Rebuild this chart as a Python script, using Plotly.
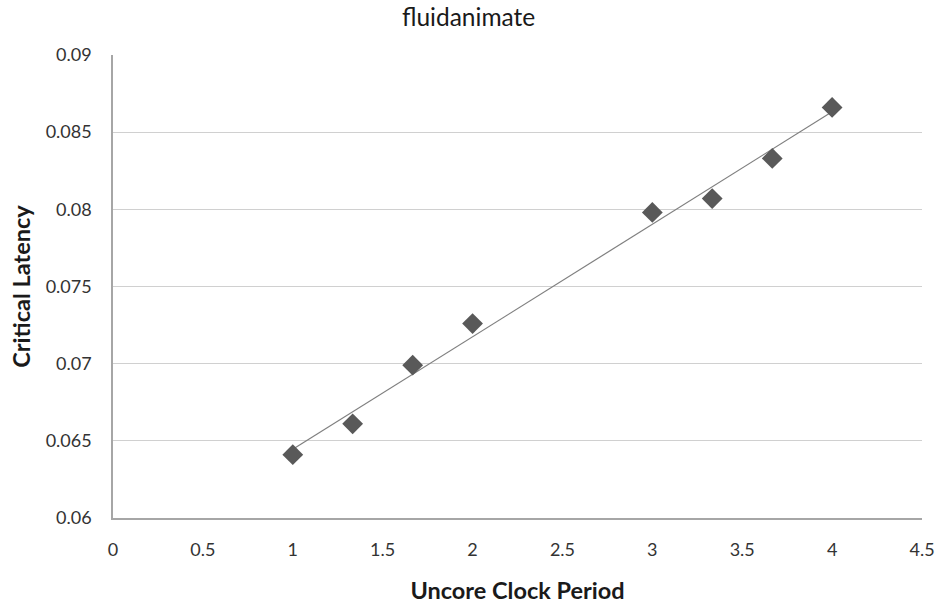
import numpy as np
import plotly.graph_objects as go

uncore_clock_period = [1.0, 1.333, 1.667, 2.0, 3.0, 3.333, 3.667, 4.0]
critical_latency = [0.0641, 0.0661, 0.0699, 0.0726, 0.0798, 0.0807, 0.0833, 0.0866]
x_ticks = [0, 0.5, 1, 1.5, 2, 2.5, 3, 3.5, 4, 4.5]
y_ticks = [0.06, 0.065, 0.07, 0.075, 0.08, 0.085, 0.09]

slope, intercept = np.polyfit(uncore_clock_period, critical_latency, 1)
trend_x = [min(uncore_clock_period), max(uncore_clock_period)]
trend_y = [slope * v + intercept for v in trend_x]

font = "Lato, 'Open Sans', sans-serif"

fig = go.Figure()
fig.add_trace(go.Scatter(x=trend_x, y=trend_y, mode="lines",
                         line=dict(color="#7f7f7f", width=1.2), showlegend=False))
fig.add_trace(go.Scatter(x=uncore_clock_period, y=critical_latency, mode="markers",
                         marker=dict(symbol="diamond", size=16, color="#595959"),
                         showlegend=False))

fig.update_layout(
    width=940, height=605,
    paper_bgcolor="white", plot_bgcolor="white",
    margin=dict(l=113, r=18, t=55, b=87, autoexpand=False),
    title=dict(text="fluidanimate", x=0.4985, xref="container", xanchor="center",
               y=1, yref="container", yanchor="top", pad=dict(t=9),
               font=dict(family=font, size=24.5, color="#1a1a1a")),
    font=dict(family=font, color="#333"),
)
fig.update_xaxes(range=[0, 4.5], tickvals=x_ticks, ticktext=[str(t) for t in x_ticks],
                 showgrid=False, zeroline=False, showline=True, linecolor="#a6a6a6", linewidth=1.5,
                 ticks="", ticklabelstandoff=15, tickfont=dict(size=18, color="#333"),
                 title=dict(text="<b>Uncore Clock Period</b>", font=dict(size=23.5, color="#1a1a1a"), standoff=23))
fig.update_yaxes(range=[0.06, 0.09], tickvals=y_ticks, ticktext=[str(t) for t in y_ticks],
                 showgrid=True, gridcolor="#d0d0d0", gridwidth=1.2, zeroline=False,
                 showline=True, linecolor="#a6a6a6", linewidth=1.5,
                 ticks="", ticklabelstandoff=16, tickfont=dict(size=18, color="#333"),
                 title=dict(text="<b>Critical Latency</b>", font=dict(size=23.5, color="#1a1a1a"), standoff=8))

fig.write_html("out.html", config={"displayModeBar": False},
               post_script="document.body.style.margin='0';document.body.style.overflow='hidden';")
